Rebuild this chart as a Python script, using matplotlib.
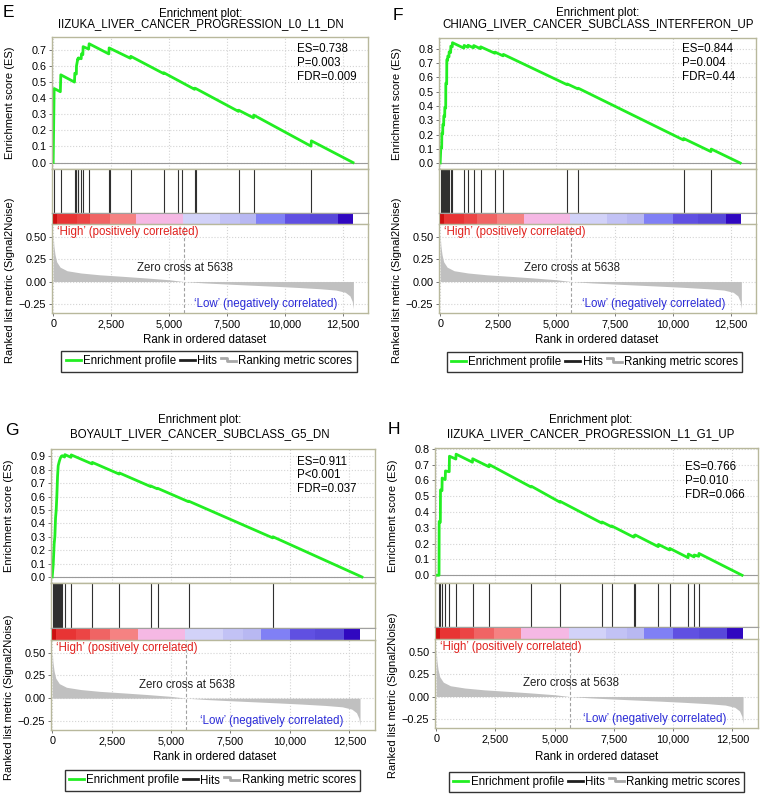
import matplotlib
matplotlib.use("Agg")
import matplotlib.pyplot as plt
from matplotlib.lines import Line2D
from matplotlib.legend_handler import HandlerBase
from matplotlib.ticker import FuncFormatter

plt.rcParams['font.family'] = ['Liberation Sans', 'DejaVu Sans']

# ------------------------------------------------------------------ data
panel_letters = ["E", "F", "G", "H"]
gene_sets = ["IIZUKA_LIVER_CANCER_PROGRESSION_L0_L1_DN",
             "CHIANG_LIVER_CANCER_SUBCLASS_INTERFERON_UP",
             "BOYAULT_LIVER_CANCER_SUBCLASS_G5_DN",
             "IIZUKA_LIVER_CANCER_PROGRESSION_L1_G1_UP"]
es_labels = ["ES=0.738", "ES=0.844", "ES=0.911", "ES=0.766"]
p_labels = ["P=0.003", "P=0.004", "P<0.001", "P=0.010"]
fdr_labels = ["FDR=0.009", "FDR=0.44", "FDR=0.037", "FDR=0.066"]

# running enrichment score vertices (rank, ES)
es_e_rank = [0, 43, 310, 330, 920, 934, 1000, 1006, 1063, 1080, 1092, 1210, 1221, 1280, 1293,
             1530, 1552, 2400, 2414, 3330, 3348, 4760, 4771, 6100, 6107, 6150, 7990, 8004,
             8640, 8651, 11120, 11137, 12933]
es_e_value = [0.0, 0.46, 0.44, 0.545, 0.50, 0.555, 0.55, 0.60, 0.645, 0.64, 0.65, 0.645, 0.675,
              0.67, 0.72, 0.705, 0.738, 0.675, 0.712, 0.648, 0.66, 0.553, 0.558, 0.455, 0.462,
              0.46, 0.318, 0.325, 0.278, 0.295, 0.102, 0.135, 0.0]
hits_e = [43, 330, 934, 1006, 1063, 1092, 1221, 1293, 1552, 2414, 2443, 3348, 4771, 5389,
          5576, 6107, 6150, 8004, 8651, 11137]

es_f_rank = [0, 29, 65, 72, 110, 114, 150, 157, 195, 200, 238, 243, 280, 286, 320, 329, 380,
             386, 450, 458, 520, 529, 1020, 1030, 1190, 1201, 1430, 1444, 1730, 1745, 2350,
             2360, 2700, 2717, 5450, 5463, 5920, 5935, 10455, 10468, 11640, 11655, 12900]
es_f_value = [0.0, 0.11, 0.105, 0.21, 0.205, 0.27, 0.265, 0.33, 0.325, 0.39, 0.385, 0.56, 0.555,
              0.725, 0.72, 0.75, 0.745, 0.78, 0.775, 0.82, 0.815, 0.844, 0.806, 0.825, 0.812,
              0.826, 0.808, 0.824, 0.802, 0.815, 0.77, 0.778, 0.752, 0.762, 0.55, 0.555, 0.52,
              0.525, 0.162, 0.172, 0.08, 0.098, 0.0]
hits_f = [29, 72, 114, 157, 200, 243, 286, 329, 386, 458, 529, 1030, 1201, 1444, 1745, 2360,
          2717, 5463, 5935, 10468, 11655]

es_g_rank = [0, 42, 84, 112, 141, 169, 197, 225, 253, 295, 338, 380, 422, 520, 535, 790, 802,
             1675, 1688, 2815, 2828, 4125, 4137, 4420, 4432, 5730, 5741, 9275, 9286, 13030]
es_g_value = [0.0, 0.09, 0.25, 0.30, 0.44, 0.50, 0.61, 0.75, 0.83, 0.86, 0.885, 0.90, 0.905,
              0.895, 0.913, 0.893, 0.911, 0.844, 0.855, 0.768, 0.776, 0.676, 0.68, 0.658, 0.662,
              0.562, 0.566, 0.292, 0.30, 0.0]
hits_g = [42, 70, 98, 126, 155, 183, 211, 239, 267, 295, 323, 352, 380, 422, 535, 802, 1688,
          2828, 4137, 4432, 5741, 9286]

es_h_rank = [0, 120, 126, 175, 182, 245, 252, 380, 392, 550, 560, 830, 840, 1530, 1540, 2230,
             2240, 4005, 4018, 5225, 5236, 6990, 7000, 7395, 7406, 8335, 8344, 8390, 8400,
             9370, 9380, 9845, 9856, 10630, 10640, 10880, 10892, 11080, 11088, 12908]
es_h_value = [0.0, 0.0, 0.34, 0.335, 0.54, 0.535, 0.615, 0.605, 0.66, 0.655, 0.753, 0.735, 0.766,
              0.715, 0.737, 0.686, 0.70, 0.558, 0.563, 0.462, 0.467, 0.33, 0.337, 0.307, 0.312,
              0.241, 0.25, 0.247, 0.255, 0.181, 0.195, 0.16, 0.17, 0.111, 0.134, 0.116, 0.128,
              0.12, 0.138, 0.0]
hits_h = [126, 182, 252, 392, 560, 840, 1540, 2240, 4018, 5236, 7000, 7406, 8344, 8400, 9380,
          9856, 10640, 10892, 11088]

es_ranks = [es_e_rank, es_f_rank, es_g_rank, es_h_rank]
es_values = [es_e_value, es_f_value, es_g_value, es_h_value]
hits = [hits_e, hits_f, hits_g, hits_h]
es_yticks_max = [0.7, 0.8, 0.9, 0.8]

# ranked list metric (Signal2Noise), shared by all panels
metric_rank = [0, 30, 80, 150, 300, 600, 1200, 2000, 3000, 4000, 5000, 5638, 6500, 7500, 8500,
               9500, 10500, 11500, 12200, 12600, 12800, 12900, 12950]
metric_value = [0.52, 0.40, 0.30, 0.22, 0.16, 0.12, 0.095, 0.075, 0.058, 0.04, 0.02, 0.0,
                -0.015, -0.028, -0.04, -0.052, -0.065, -0.08, -0.095, -0.12, -0.16, -0.22, -0.30]
zero_cross = 5638
metric_yticks = [-0.25, 0.0, 0.25, 0.5]
x_ticks = [0, 2500, 5000, 7500, 10000, 12500]

# heat bar segments (rank boundaries)
colorbar_edges = [0, 147, 1009, 1582, 2444, 3594, 5603, 7185, 8047, 8767, 9995, 11073, 12283, 12930]
colorbar_colors = ['#cc1010', '#e83434', '#ec4545', '#f06464', '#f58282', '#f5b8e4', '#d2d2f8',
                   '#c2c2f5', '#b8b8f2', '#8080f5', '#6050e2', '#5848da', '#3008c0']

# ------------------------------------------------------------------ layout (pixels)
W, H = 765, 798
# left, right, top, es_bottom, hits_bottom, cb_bottom, metric_bottom
layout = [(52, 368, 37, 169, 213, 224, 313),
          (439, 756, 38, 169, 213, 224, 313),
          (51, 375, 449, 583, 628, 640, 730),
          (435, 758, 448, 583, 627, 639, 728)]
es_ylims = [(-0.04, 0.78), (-0.042, 0.877), (-0.045, 0.955), (-0.049, 0.805)]
title_x = [200.5, 598, 200, 591]
title_base = [(16.7, 27.3), (16.3, 27.3), (423.3, 436.7), (423.3, 436.7)]
letter_pos = [(3, 17), (393, 20.5), (5, 435), (388, 434)]
stat_pos = [(297, 49.3), (682, 49.3), (297, 461.7), (685, 467.3)]
xlabel_pos = [(205, 340), (596.7, 340), (214.7, 756.7), (596.3, 756.7)]
legend_pos = [(209, 361.5), (594.5, 362), (212.2, 780.5), (596.7, 781.7)]

FRAME = '#b8b89c'
GRID = '#d4d4d4'
XLIM = (-50, 13580)
FS = 8.3

fig = plt.figure(figsize=(W / 100, H / 100), dpi=100)


def fx(px):
    return px / W


def fy(py):
    return 1 - py / H


def px_axes(l, t, r, b):
    return fig.add_axes([l / W, 1 - b / H, (r - l) / W, (b - t) / H])


class StepHandler(HandlerBase):
    def create_artists(self, legend, orig_handle, xdescent, ydescent, width, height,
                       fontsize, trans):
        x0, y0 = -xdescent, -ydescent
        xs = [x0, x0 + 0.4 * width, x0 + 0.4 * width, x0 + width]
        ys = [y0 + 0.85 * height, y0 + 0.85 * height, y0 + 0.4 * height, y0 + 0.4 * height]
        ln = Line2D(xs, ys, color='#a8a8a8', lw=2)
        ln.set_transform(trans)
        return [ln]


def style_frame(ax):
    for s in ax.spines.values():
        s.set_color(FRAME)
        s.set_linewidth(1.0)


for i in range(4):
    l, r, t, eb, hb, cb, mb = layout[i]
    ax_es = px_axes(l, t, r, eb)
    ax_hit = px_axes(l, eb, r, hb)
    ax_cb = px_axes(l, hb, r, cb)
    ax_m = px_axes(l, cb, r, mb)

    # ---- ES panel
    ax_es.plot(es_ranks[i], es_values[i], color='#22ee22', lw=2.0, solid_joinstyle='round')
    ax_es.axhline(0, color='#9a9a9a', lw=0.8, zorder=1)
    ax_es.set_xlim(XLIM)
    ax_es.set_ylim(es_ylims[i])
    nt = int(round(es_yticks_max[i] * 10)) + 1
    ax_es.set_yticks([k / 10 for k in range(nt)])
    ax_es.yaxis.set_major_formatter(FuncFormatter(lambda v, p: f"{v:.1f}"))
    ax_es.set_xticks(x_ticks)
    ax_es.tick_params(axis='x', length=0, labelbottom=False)
    ax_es.tick_params(axis='y', length=2.5, width=0.6, color='#606060', pad=1.5, labelsize=7.8)
    ax_es.grid(True, color=GRID, linestyle=':', linewidth=0.8)
    ax_es.set_axisbelow(True)
    style_frame(ax_es)
    fig.text(fx(l - 42), fy((t + eb) / 2), "Enrichment score (ES)", rotation=90,
             ha='center', va='center', fontsize=8)

    # ES / P / FDR
    sx, sy = stat_pos[i]
    for k, s in enumerate([es_labels[i], p_labels[i], fdr_labels[i]]):
        fig.text(fx(sx), fy(sy + k * 13.6), s, ha='left', va='center', fontsize=FS)

    # ---- hits
    ax_hit.vlines(hits[i], 0, 1, color='#303030', lw=0.8)
    ax_hit.set_xlim(XLIM)
    ax_hit.set_ylim(0, 1)
    ax_hit.set_xticks([])
    ax_hit.set_yticks([])
    style_frame(ax_hit)

    # ---- heat bar
    for k in range(len(colorbar_colors)):
        ax_cb.axvspan(colorbar_edges[k], colorbar_edges[k + 1], color=colorbar_colors[k], lw=0)
    ax_cb.set_xlim(XLIM)
    ax_cb.set_ylim(0, 1)
    ax_cb.set_xticks([])
    ax_cb.set_yticks([])
    for s in ax_cb.spines.values():
        s.set_color('#a0a0a0')
        s.set_linewidth(0.8)
    ax_cb.spines['left'].set_color(FRAME)
    ax_cb.spines['right'].set_color(FRAME)

    # ---- ranked metric
    ax_m.fill_between(metric_rank, metric_value, 0, color='#c0c0c0', lw=0)
    ax_m.axvline(zero_cross, color='#a0a0a0', lw=0.8, ls=(0, (3, 2)))
    ax_m.set_xlim(XLIM)
    ax_m.set_ylim(-0.35, 0.64)
    ax_m.set_yticks(metric_yticks)
    ax_m.yaxis.set_major_formatter(FuncFormatter(lambda v, p: f"{v:.2f}".replace('-', '\u2212')))
    ax_m.set_xticks(x_ticks)
    ax_m.xaxis.set_major_formatter(FuncFormatter(lambda v, p: f"{int(v):,}"))
    ax_m.tick_params(axis='both', length=2.5, width=0.6, color='#606060', labelsize=7.8)
    ax_m.tick_params(axis='y', pad=1.5)
    ax_m.tick_params(axis='x', pad=2)
    ax_m.grid(True, color=GRID, linestyle=':', linewidth=0.8)
    ax_m.set_axisbelow(True)
    style_frame(ax_m)
    ax_m.text(150, 0.55, "\u2018High\u2019 (positively correlated)", color='#e0201c',
              fontsize=FS, ha='left', va='center')
    ax_m.text(5670, 0.15, f"Zero cross at {zero_cross}", color='#202020', fontsize=FS,
              ha='center', va='center')
    ax_m.text(12250, -0.25, "\u2018Low\u2019 (negatively correlated)", color='#2a2ad8',
              fontsize=FS, ha='right', va='center')
    fig.text(fx(l - 42), fy(mb - 33), "Ranked list metric (Signal2Noise)", rotation=90,
             ha='center', va='center', fontsize=8)
    xlx, xly = xlabel_pos[i]
    fig.text(fx(xlx), fy(xly), "Rank in ordered dataset", ha='center', va='center', fontsize=FS)

    # ---- legend
    h1 = Line2D([], [], color='#22ee22', lw=2)
    h2 = Line2D([], [], color='#202020', lw=2)
    h3 = Line2D([], [], color='#a8a8a8', lw=2)
    lgx, lgy = legend_pos[i]
    leg = ax_m.legend([h1, h2, h3], ["Enrichment profile", "Hits", "Ranking metric scores"],
                      loc='center', bbox_to_anchor=(fx(lgx), fy(lgy)),
                      bbox_transform=fig.transFigure, ncol=3, fontsize=FS, frameon=True,
                      fancybox=False, edgecolor='black', handlelength=1.3, handletextpad=0.2,
                      columnspacing=0.35, borderpad=0.35, borderaxespad=0,
                      handler_map={h3: StepHandler()})
    leg.get_frame().set_linewidth(1.0)

    # ---- titles and letters
    tb1, tb2 = title_base[i]
    fig.text(fx(title_x[i]), fy(tb1), "Enrichment plot:", ha='center', va='baseline', fontsize=FS)
    fig.text(fx(title_x[i]), fy(tb2), gene_sets[i], ha='center', va='baseline', fontsize=FS)
    lx, ly = letter_pos[i]
    fig.text(fx(lx), fy(ly), panel_letters[i], ha='left', va='baseline', fontsize=12.5)

fig.savefig("out.png", dpi=100)
